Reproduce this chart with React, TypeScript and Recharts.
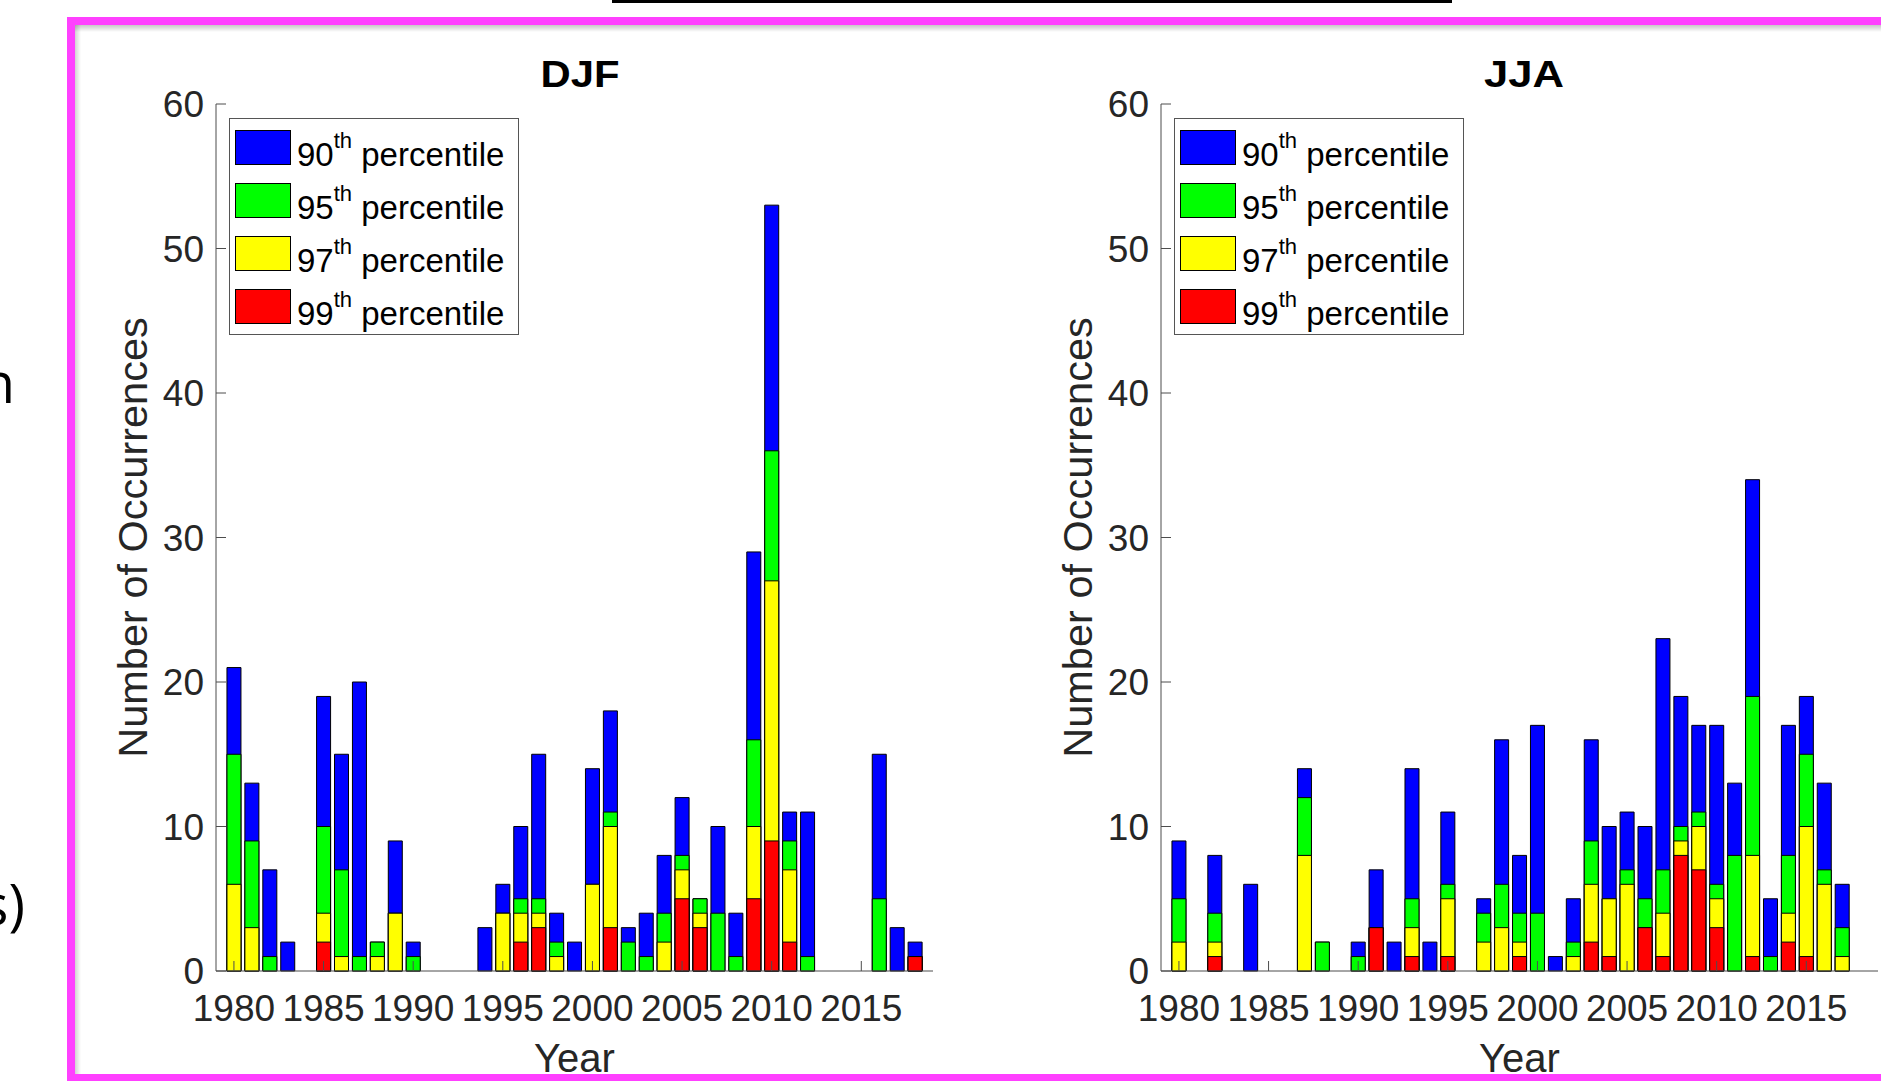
import React from 'react';
import { BarChart, Bar, XAxis, YAxis, Legend } from 'recharts';

// Years on the x axis (one bar group per year)
const YEARS = [
  1980, 1981, 1982, 1983, 1984, 1985, 1986, 1987, 1988, 1989,
  1990, 1991, 1992, 1993, 1994, 1995, 1996, 1997, 1998, 1999,
  2000, 2001, 2002, 2003, 2004, 2005, 2006, 2007, 2008, 2009,
  2010, 2011, 2012, 2013, 2014, 2015, 2016, 2017, 2018,
];

// DJF occurrences per percentile threshold (bars overlap, not stacked)
const DJF_P90 = [21, 13, 7, 2, 0, 19, 15, 20, 2, 9, 2, 0, 0, 0, 3, 6, 10, 15, 4, 2, 14, 18, 3, 4, 8, 12, 5, 10, 4, 29, 53, 11, 11, 0, 0, 0, 15, 3, 2];
const DJF_P95 = [15, 9, 1, 0, 0, 10, 7, 1, 2, 4, 1, 0, 0, 0, 0, 4, 5, 5, 2, 0, 6, 11, 2, 1, 4, 8, 5, 4, 1, 16, 36, 9, 1, 0, 0, 0, 5, 0, 1];
const DJF_P97 = [6, 3, 0, 0, 0, 4, 1, 0, 1, 4, 0, 0, 0, 0, 0, 4, 4, 4, 1, 0, 6, 10, 0, 0, 2, 7, 4, 0, 0, 10, 27, 7, 0, 0, 0, 0, 0, 0, 1];
const DJF_P99 = [0, 0, 0, 0, 0, 2, 0, 0, 0, 0, 0, 0, 0, 0, 0, 0, 2, 3, 0, 0, 0, 3, 0, 0, 0, 5, 3, 0, 0, 5, 9, 2, 0, 0, 0, 0, 0, 0, 1];

// JJA occurrences per percentile threshold
const JJA_P90 = [9, 0, 8, 0, 6, 0, 0, 14, 2, 0, 2, 7, 2, 14, 2, 11, 0, 5, 16, 8, 17, 1, 5, 16, 10, 11, 10, 23, 19, 17, 17, 13, 34, 5, 17, 19, 13, 6, 0];
const JJA_P95 = [5, 0, 4, 0, 0, 0, 0, 12, 2, 0, 1, 3, 0, 5, 0, 6, 0, 4, 6, 4, 4, 0, 2, 9, 5, 7, 5, 7, 10, 11, 6, 8, 19, 1, 8, 15, 7, 3, 0];
const JJA_P97 = [2, 0, 2, 0, 0, 0, 0, 8, 0, 0, 0, 3, 0, 3, 0, 5, 0, 2, 3, 2, 0, 0, 1, 6, 5, 6, 3, 4, 9, 10, 5, 0, 8, 0, 4, 10, 6, 1, 0];
const JJA_P99 = [0, 0, 1, 0, 0, 0, 0, 0, 0, 0, 0, 3, 0, 1, 0, 1, 0, 0, 0, 1, 0, 0, 0, 2, 1, 0, 3, 1, 8, 7, 3, 0, 1, 0, 2, 1, 0, 0, 0];

const X_TICKS = [1980, 1985, 1990, 1995, 2000, 2005, 2010, 2015];
const Y_TICKS = [0, 10, 20, 30, 40, 50, 60];

// back to front: blue drawn first, red last
const SERIES = [
  { key: 'p90', name: '90', color: '#0000ff' },
  { key: 'p95', name: '95', color: '#00ff00' },
  { key: 'p97', name: '97', color: '#ffff00' },
  { key: 'p99', name: '99', color: '#ff0000' },
];

const FONT = '"Liberation Sans", Arial, Helvetica, sans-serif';
const AXIS_COLOR = '#4d4d4d';
const TEXT_COLOR = '#262626';
const TICK_LEN = 10;
const BAR_W = 14;

const makeRows = (p90: number[], p95: number[], p97: number[], p99: number[]) =>
  YEARS.map((year, i) => ({ year, p90: p90[i], p95: p95[i], p97: p97[i], p99: p99[i] }));

const djfRows = makeRows(DJF_P90, DJF_P95, DJF_P97, DJF_P99);
const jjaRows = makeRows(JJA_P90, JJA_P95, JJA_P97, JJA_P99);

// x tick: label below, short tick pointing into the plot
const XTick = (props: any) => {
  const { x, y, payload } = props;
  const axisY = y - 24;
  return (
    <g>
      <line x1={x} x2={x} y1={axisY} y2={axisY - TICK_LEN} stroke={AXIS_COLOR} strokeWidth={1} />
      <text x={x} y={y} dy="0.71em" textAnchor="middle" fontSize={37} fontFamily={FONT} fill={TEXT_COLOR}>
        {payload.value}
      </text>
    </g>
  );
};

const YTick = (props: any) => {
  const { x, y, payload } = props;
  const axisX = x + 12;
  return (
    <g>
      <line x1={axisX} x2={axisX + TICK_LEN} y1={y} y2={y} stroke={AXIS_COLOR} strokeWidth={1} />
      <text x={x} y={y} dy="0.355em" textAnchor="end" fontSize={37} fontFamily={FONT} fill={TEXT_COLOR}>
        {payload.value}
      </text>
    </g>
  );
};

const XTitle = ({ viewBox }: any) => (
  <text x={viewBox.x + viewBox.width / 2} y={viewBox.y + 101} textAnchor="middle" fontSize={40} fontFamily={FONT} fill={TEXT_COLOR}>
    Year
  </text>
);

const YTitle = ({ viewBox }: any) => {
  const cx = viewBox.x + viewBox.width - 69;
  const cy = viewBox.y + viewBox.height / 2;
  return (
    <text x={cx} y={cy} transform={`rotate(-90 ${cx} ${cy})`} textAnchor="middle" fontSize={41.5} fontFamily={FONT} fill={TEXT_COLOR}>
      Number of Occurrences
    </text>
  );
};

const LegendBox = (props: any) => {
  const items = props.payload || [];
  return (
    <svg width={291} height={218} style={{ display: 'block' }}>
      <rect x={0.5} y={0.5} width={289} height={216} fill="#fff" stroke="#555" strokeWidth={1} />
      {items.map((entry: any, i: number) => {
        const s = SERIES.find((d) => d.key === entry.dataKey) || SERIES[i];
        const top = 12 + i * 53;
        return (
          <g key={s.key}>
            <rect x={6.5} y={top + 0.5} width={55} height={34} fill={s.color} stroke="#000" strokeWidth={1} />
            <text x={68} y={top + 36} fontSize={33} fontFamily={FONT} fill="#000">
              {s.name}
              <tspan dy={-18} fontSize={22}>th</tspan>
              <tspan dy={18}> percentile</tspan>
            </text>
          </g>
        );
      })}
    </svg>
  );
};

function SeasonChart({ data, left }: { data: any[]; left: number }) {
  return (
    <div style={{ position: 'absolute', left, top: 0 }}>
      <BarChart
        width={1000}
        height={1081}
        data={data}
        margin={{ top: 104, right: 67, bottom: 0, left: 50 }}
        barSize={BAR_W}
        barGap={-BAR_W}
      >
        <XAxis
          dataKey="year"
          type="number"
          domain={[1979, 2019]}
          ticks={X_TICKS}
          interval={0}
          height={110}
          tickSize={0}
          tickMargin={24}
          tickLine={false}
          tick={<XTick />}
          axisLine={{ stroke: AXIS_COLOR, strokeWidth: 1 }}
          label={XTitle}
        />
        <YAxis
          type="number"
          domain={[0, 60]}
          ticks={Y_TICKS}
          interval={0}
          width={166}
          tickSize={0}
          tickMargin={12}
          tickLine={false}
          tick={<YTick />}
          axisLine={{ stroke: AXIS_COLOR, strokeWidth: 1 }}
          label={YTitle}
        />
        {SERIES.map((s) => (
          <Bar
            key={s.key}
            dataKey={s.key}
            name={s.name}
            fill={s.color}
            stroke="#000"
            strokeWidth={1}
            isAnimationActive={false}
          />
        ))}
        <Legend
          layout="horizontal"
          verticalAlign="middle"
          align="center"
          wrapperStyle={{ left: 229, top: 118, width: 291, height: 218 }}
          content={LegendBox}
        />
      </BarChart>
    </div>
  );
}

export default function App() {
  return (
    <div style={{ position: 'absolute', left: 0, top: 0, width: 1881, height: 1081, overflow: 'hidden', background: '#fff' }}>
      <svg width={1881} height={1081} style={{ position: 'absolute', left: 0, top: 0 }}>
        <defs>
          <linearGradient id="shTop" x1="0" y1="0" x2="0" y2="1">
            <stop offset="0" stopColor="#000" stopOpacity={0.22} />
            <stop offset="1" stopColor="#000" stopOpacity={0} />
          </linearGradient>
          <linearGradient id="shLeft" x1="0" y1="0" x2="1" y2="0">
            <stop offset="0" stopColor="#000" stopOpacity={0.18} />
            <stop offset="1" stopColor="#000" stopOpacity={0} />
          </linearGradient>
        </defs>
        {/* slide remnants, cut off at the left edge as in the source */}
        <rect x={612} y={0} width={840} height={3} fill="#000" />
        <text x={15} y={403} textAnchor="end" fontSize={56} fontFamily='"Open Sans", sans-serif' fill="#000">n</text>
        <text x={25} y={925} textAnchor="end" fontSize={56} fontFamily='"Open Sans", sans-serif' fill="#000">s)</text>
        {/* frame */}
        <rect x={75} y={25} width={1806} height={7} fill="url(#shTop)" />
        <rect x={75} y={25} width={6} height={1050} fill="url(#shLeft)" />
        <rect x={67} y={17} width={1814} height={8} fill="#ff40ff" />
        <rect x={67} y={17} width={8} height={1064} fill="#ff40ff" />
        <rect x={67} y={1074} width={1814} height={7} fill="#ff40ff" />
        {/* panel titles */}
        <text x={580} y={87} textAnchor="middle" fontSize={36} fontWeight="bold" fontFamily={FONT} fill="#000" textLength={79} lengthAdjust="spacingAndGlyphs">DJF</text>
        <text x={1524} y={87} textAnchor="middle" fontSize={36} fontWeight="bold" fontFamily={FONT} fill="#000" textLength={80} lengthAdjust="spacingAndGlyphs">JJA</text>
      </svg>
      <SeasonChart data={djfRows} left={0} />
      <SeasonChart data={jjaRows} left={945} />
    </div>
  );
}
